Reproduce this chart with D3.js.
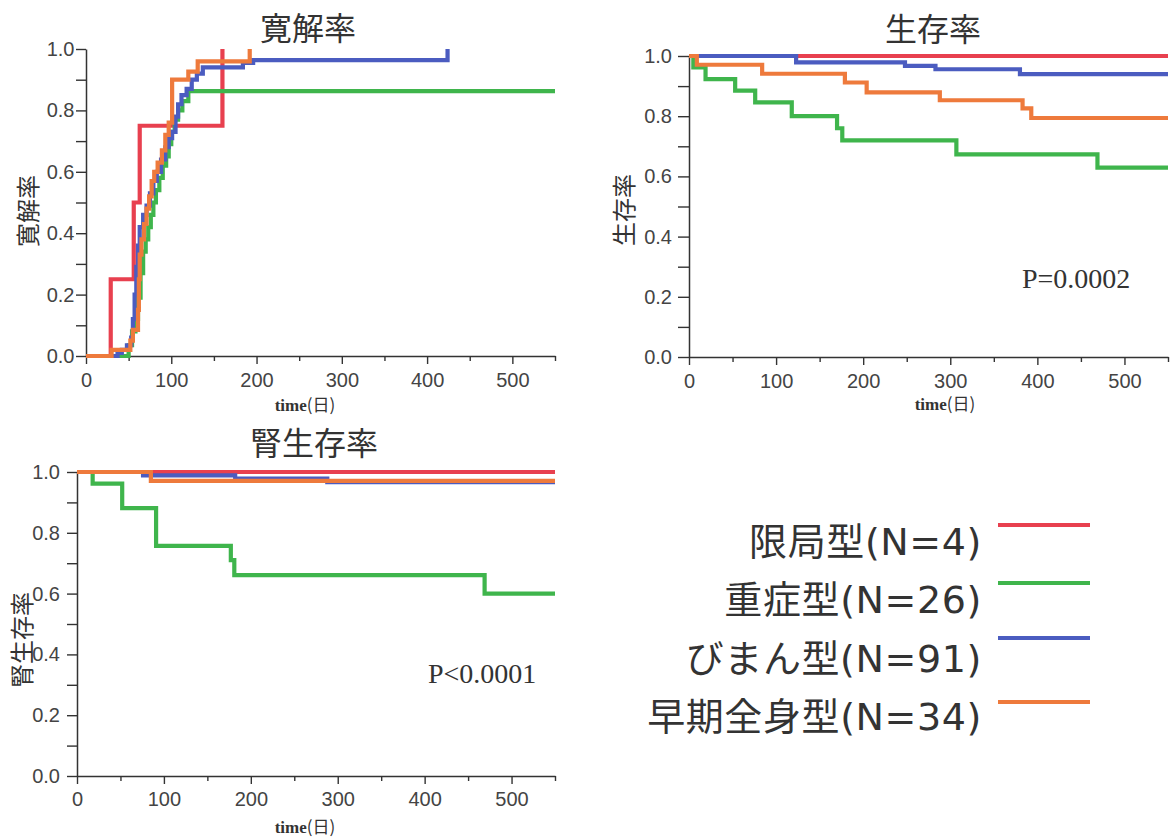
<!DOCTYPE html>
<html><head><meta charset="utf-8">
<script src="https://cdn.jsdelivr.net/npm/d3@7"></script>
<style>
body{margin:0;background:#fff}
svg{display:block;background:#fff}
.axis .domain{stroke:#333;stroke-width:1.5}
.axis .tick line{stroke:#333;stroke-width:1.4}
.axis .tick text{fill:#444;font-family:"Liberation Sans",Arial,sans-serif;font-size:20px}
</style>
</head><body>
<svg id="c" width="1175" height="840"></svg>
<script>
// ---------- data ----------
const groups = ["限局型(N=4)", "重症型(N=26)", "びまん型(N=91)", "早期全身型(N=34)"];
const xTicks = [0, 100, 200, 300, 400, 500];
const xMinorTicks = [50, 150, 250, 350, 450, 550];
const yTicks = [0, 0.1, 0.2, 0.3, 0.4, 0.5, 0.6, 0.7, 0.8, 0.9, 1.0];
const titles = ["寛解率", "生存率", "腎生存率"];
const pValues = ["", "P=0.0002", "P<0.0001"];
const xLabel = "time";
const xLabelUnit = "(日)";

// 寛解率 (cumulative remission), [day, rate]
const remRed = [[0,0],[29,0.25],[56,0.5],[63,0.75],[160,1.0]];
const remGreen = [[0,0],[50,0.035],[54,0.08],[58,0.12],[61,0.19],[64,0.27],[67,0.34],[70,0.38],[73,0.42],[76,0.46],[79,0.5],[82,0.54],[86,0.58],[90,0.62],[94,0.65],[97,0.69],[100,0.73],[104,0.77],[108,0.8],[113,0.83],[120,0.863],[550,0.863]];
const remBlue = [[0,0],[37,0.01],[42,0.02],[48,0.035],[53,0.06],[55,0.12],[57,0.2],[59,0.29],[61,0.36],[63,0.42],[67,0.46],[71,0.49],[75,0.53],[79,0.57],[83,0.6],[88,0.64],[93,0.68],[97,0.71],[101,0.73],[105,0.78],[108,0.82],[112,0.85],[118,0.87],[124,0.9],[130,0.92],[137,0.94],[184,0.955],[196,0.964],[424,1.0]];
const remOrange = [[0,0],[30,0.02],[52,0.05],[55,0.085],[61,0.15],[62,0.25],[63,0.33],[65,0.38],[68,0.43],[71,0.48],[74,0.52],[77,0.57],[80,0.6],[84,0.63],[89,0.67],[93,0.72],[97,0.76],[101,0.9],[120,0.926],[131,0.96],[192,1.0]];

// 生存率 (overall survival)
const osRed = [[0,1],[550,1]];
const osGreen = [[0,1],[5,0.962],[19,0.923],[53,0.885],[76,0.846],[118,0.80],[170,0.76],[176,0.72],[307,0.673],[469,0.629],[550,0.629]];
const osBlue = [[0,1],[123,0.979],[248,0.967],[283,0.956],[380,0.94],[550,0.94]];
const osOrange = [[0,1],[9,0.971],[84,0.941],[179,0.912],[204,0.879],[288,0.853],[383,0.826],[393,0.794],[550,0.794]];

// 腎生存率 (renal survival)
const rsRed = [[0,1],[550,1]];
const rsGreen = [[0,1],[18,0.962],[52,0.881],[91,0.757],[177,0.71],[181,0.661],[469,0.60],[550,0.60]];
const rsBlue = [[0,1],[76,0.989],[182,0.978],[288,0.967],[550,0.967]];
const rsOrange = [[0,1],[85,0.971],[550,0.971]];

// ---------- style / layout ----------
const colors = ["#e8404f", "#3fb54c", "#4b5cc0", "#ee7a3c"];
const cjk = '"Noto Sans CJK JP","Noto Sans CJK SC",sans-serif';

const panels = [
  {series:[remRed, remGreen, remBlue, remOrange], x0:86, x1:555, yT:49, yB:356, yTick:10, yPad:1.5, xPad:9,
   title:[308,40], ylab:[26,211], xlab:[305,411], p:null},
  {series:[osRed, osGreen, osBlue, osOrange], x0:689, x1:1168, yT:56, yB:357, yTick:11, yPad:6, xPad:9,
   title:[933,41], ylab:[622,210], xlab:[945,410], p:[1022,288]},
  {series:[rsRed, rsGreen, rsBlue, rsOrange], x0:77, x1:555, yT:472, yB:776, yTick:10, yPad:7, xPad:8,
   title:[314,455], ylab:[20,640], xlab:[305,833], p:[428,683]}
];

const svg = d3.select("#c");
svg.append("rect").attr("width",1175).attr("height",840).attr("fill","#fff");

panels.forEach((P, i) => {
  const x = d3.scaleLinear().domain([0, 550]).range([P.x0, P.x1]);
  const y = d3.scaleLinear().domain([0, 1]).range([P.yB, P.yT]);
  const g = svg.append("g");

  // minor x ticks
  g.append("g").attr("class","axis").attr("transform",`translate(0,${P.yB})`)
    .call(d3.axisBottom(x).tickValues(xMinorTicks).tickSize(5).tickFormat("").tickSizeOuter(0))
    .call(a => a.select(".domain").remove());
  // major x axis
  g.append("g").attr("class","axis").attr("transform",`translate(0,${P.yB})`)
    .call(d3.axisBottom(x).tickValues(xTicks).tickSize(8).tickPadding(P.xPad).tickSizeOuter(0).tickFormat(d3.format("d")));
  // y axis
  g.append("g").attr("class","axis").attr("transform",`translate(${P.x0},0)`)
    .call(d3.axisLeft(y).tickValues(yTicks).tickSize(P.yTick).tickPadding(P.yPad).tickSizeOuter(0)
      .tickFormat(d => (Math.round(d*10) % 2 === 0) ? d3.format(".1f")(d) : ""));

  // curves
  const line = d3.line().x(d => x(d[0])).y(d => y(d[1])).curve(d3.curveStepAfter);
  P.series.forEach((s, k) => {
    g.append("path").datum(s).attr("d", line)
      .attr("fill","none").attr("stroke", colors[k]).attr("stroke-width",4.2)
      .attr("stroke-linejoin","miter").attr("stroke-linecap","butt");
  });

  // title
  g.append("text").attr("x",P.title[0]).attr("y",P.title[1]).attr("text-anchor","middle")
    .attr("font-family",cjk).attr("font-size",32).attr("fill","#333").text(titles[i]);
  // y label
  g.append("text").attr("transform",`translate(${P.ylab[0]},${P.ylab[1]}) rotate(-90)`)
    .attr("text-anchor","middle").attr("dominant-baseline","central")
    .attr("font-family",cjk).attr("font-size",24).attr("fill","#333").text(titles[i]);
  // x label
  const xl = g.append("text").attr("x",P.xlab[0]).attr("y",P.xlab[1]).attr("text-anchor","middle")
    .attr("fill","#333").attr("font-size",17);
  xl.append("tspan").attr("font-family",'"Liberation Serif","Times New Roman",serif').attr("font-weight","bold").text(xLabel);
  xl.append("tspan").attr("font-family",cjk).text(xLabelUnit);
  // p value
  if (P.p) {
    g.append("text").attr("x",P.p[0]).attr("y",P.p[1])
      .attr("font-family",'"Liberation Serif","Times New Roman",serif').attr("font-size",28)
      .attr("fill","#333").text(pValues[i]);
  }
});

// legend
const legY = [525, 583, 638, 702];
const legBase = [555, 613, 672, 730];
const leg = svg.append("g");
groups.forEach((name, k) => {
  leg.append("text").attr("x",982).attr("y",legBase[k]).attr("text-anchor","end")
    .attr("font-family",'"DejaVu Sans","Noto Sans CJK JP",sans-serif').attr("font-size",38)
    .attr("letter-spacing",0.6).attr("fill","#333").text(name);
  leg.append("line").attr("x1",998).attr("x2",1090).attr("y1",legY[k]).attr("y2",legY[k])
    .attr("stroke",colors[k]).attr("stroke-width",4);
});
</script>
</body></html>
